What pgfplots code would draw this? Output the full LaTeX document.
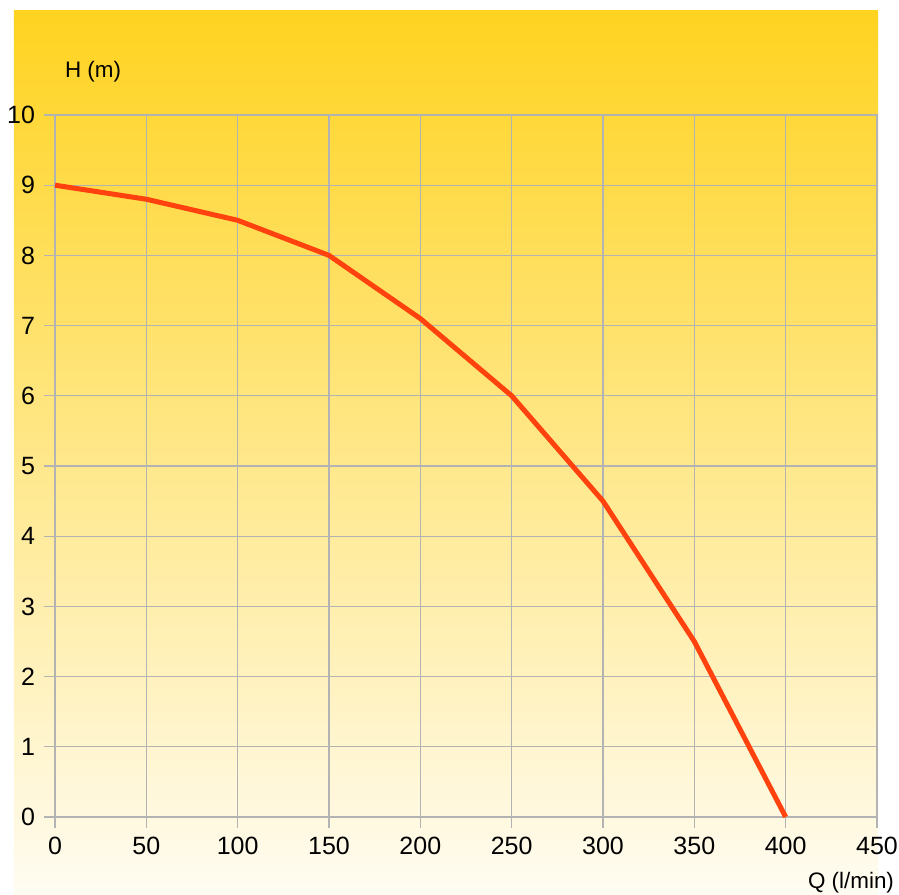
\documentclass[border=0pt]{standalone}
\usepackage{pgfplots}
\pgfplotsset{compat=1.18}
\usepackage{fontspec}
\setmainfont{Liberation Sans}
\definecolor{bgtop}{HTML}{FFD320}
\definecolor{bgbot}{HTML}{FFFCF2}
\definecolor{curve}{HTML}{FF420E}
\definecolor{gridc}{HTML}{B3B3B3}
\begin{document}
\begin{tikzpicture}[x=1pt,y=1pt]
\useasboundingbox (-27.5,-38.5) rectangle (422,408.5);
\fill[top color=bgtop,bottom color=bgbot] (-20.5,-38.5) rectangle (411.5,403);
\begin{axis}[
  at={(0,0)}, anchor=south west,
  scale only axis, width=411pt, height=351pt,
  xmin=0, xmax=450, ymin=0, ymax=10,
  xtick={0,50,...,450}, ytick={0,1,...,10},
  grid=major,
  grid style={gridc, line width=0.65pt},
  axis line style={gridc, line width=0.65pt},
  tick style={gridc, line width=0.65pt},
  tick align=outside, major tick length=5.5pt,
  xtick pos=bottom, ytick pos=left,
  /pgf/number format/assume math mode=true,
  ticklabel style={font=\fontsize{12.5}{14}\selectfont, text=black},
  yticklabel style={xshift=-1pt},
  xticklabel style={yshift=-1pt},
]
\addplot[curve, line width=2.5pt, line join=round] coordinates {
 (0,9) (50,8.8) (100,8.5) (150,8) (200,7.1) (250,6) (300,4.5) (350,2.5) (400,0)};
\end{axis}
\node[font=\fontsize{11.2}{13}\selectfont] at (19,372.5) {H (m)};
\node[font=\fontsize{11.2}{13}\selectfont] at (398,-33) {Q (l/min)};
\end{tikzpicture}
\end{document}
